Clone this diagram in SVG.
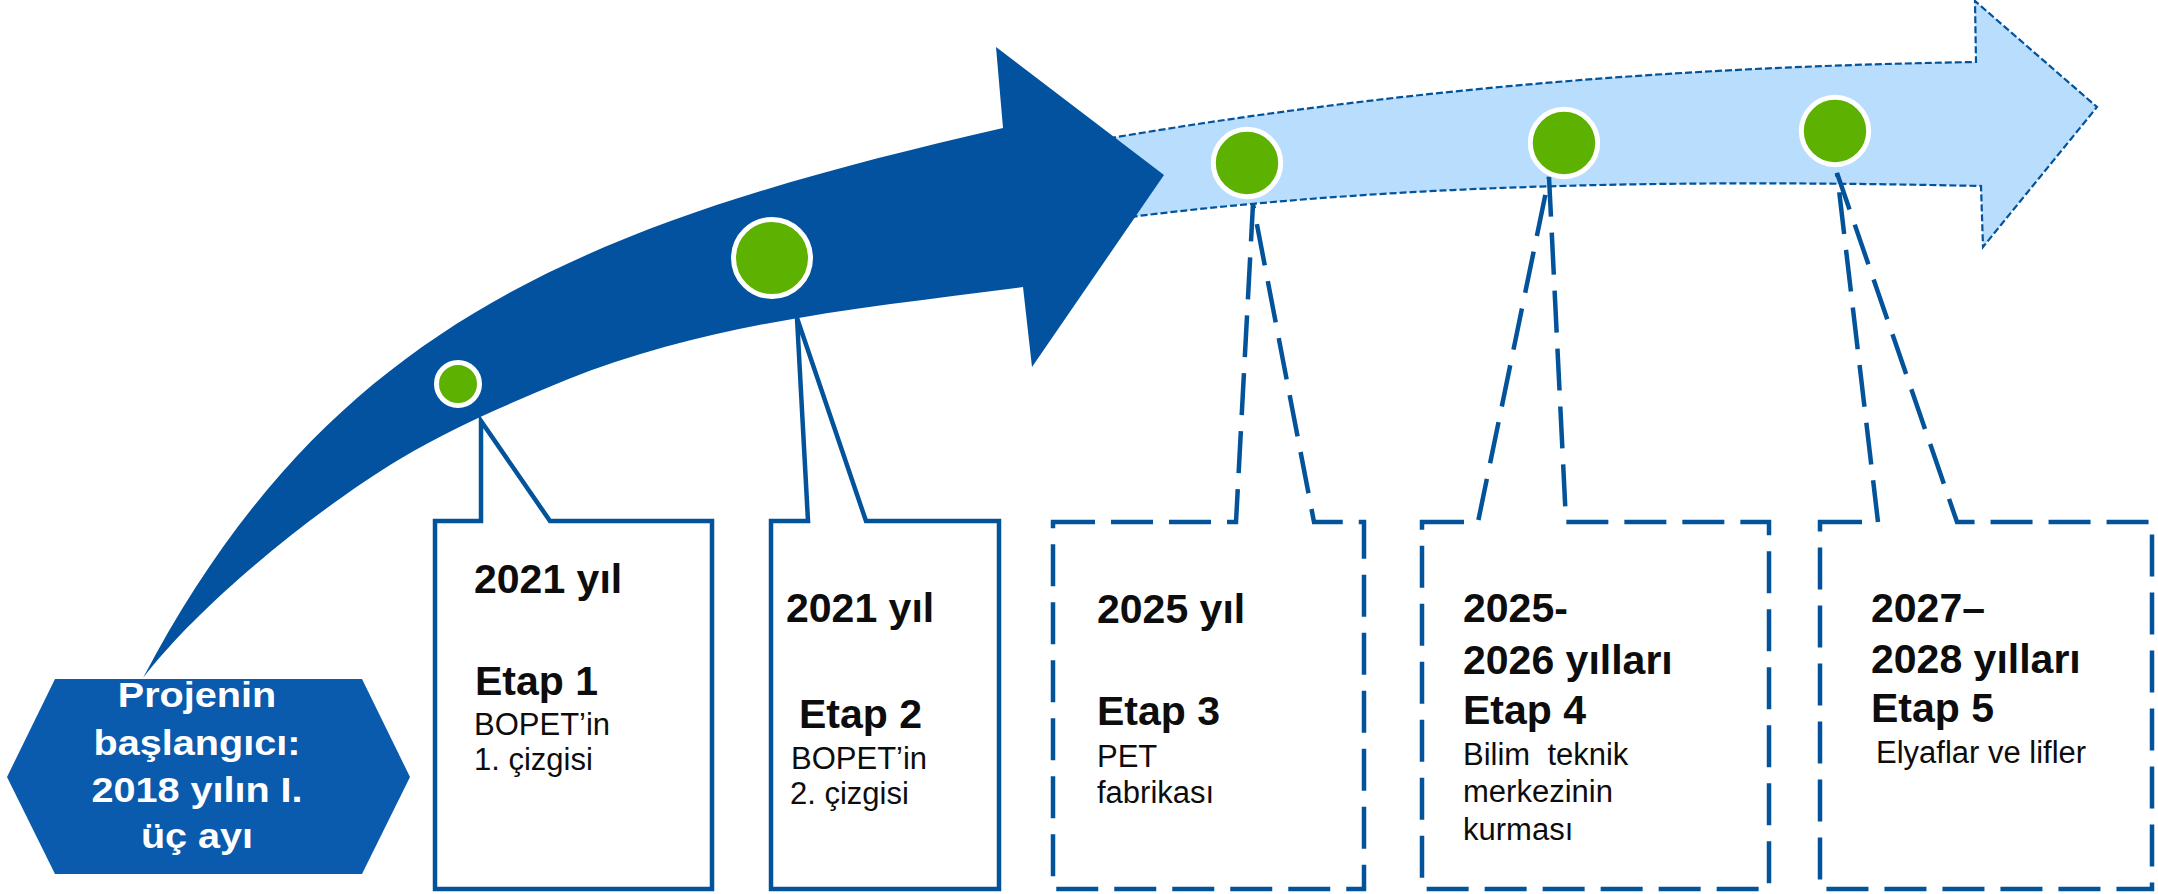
<svg xmlns="http://www.w3.org/2000/svg" width="2158" height="894" viewBox="0 0 2158 894">
<style>
.box{fill:none;stroke:#03539B;stroke-width:4.5;stroke-linejoin:miter}
.dash{stroke-dasharray:42 16}
.b{font-family:"Liberation Sans",Arial,sans-serif;font-weight:bold;font-size:41px;fill:#0d0d0d}
.r{font-family:"Liberation Sans",Arial,sans-serif;font-size:31px;fill:#0d0d0d}
.h{font-family:"Liberation Sans",Arial,sans-serif;font-weight:bold;font-size:36px;fill:#ffffff}
.dot{fill:#5DB100;stroke:#ffffff;stroke-width:5}
</style>
<rect width="2158" height="894" fill="#ffffff"/>
<g id="connectors">
  <path id="future-arrow" d="M1060,148 L1117,137 C1407,88 1686,66.6 1976,62 L1975,1 L2097,107 L1983,247 L1981,186 C1701,180 1418,182 1138,216 L1070,226 Z" fill="#B9DDFC" stroke="#03539B" stroke-width="2.2" stroke-dasharray="7 3"/>
  <path id="main-arrow" d="M143,678 C329,324 584,224 1003,128 L996,47 L1164,175 L1032,367 L1023,287 C873,307 716,320 566,380 C511,403 455,426 400,459 C320,507 203,600 143,678 Z" fill="#02529F"/>
</g>
<g id="start">
  <polygon points="55,679 362,679 410,777 362,874 55,874 7,777" fill="#0A5AAD"/>
  <g transform="translate(197,0) scale(1.1,1)">
    <text class="h" x="0" y="707" text-anchor="middle">Projenin</text>
    <text class="h" x="0" y="755" text-anchor="middle">başlangıcı:</text>
    <text class="h" x="0" y="802" text-anchor="middle">2018 yılın I.</text>
    <text class="h" x="0" y="848" text-anchor="middle">üç ayı</text>
  </g>
</g>
<g id="stage1">
  <path class="box" d="M435,521 L481,521 L481,421 L550,521 L712,521 L712,889 L435,889 Z"/>
  <text class="b" x="474" y="593">2021 yıl</text>
  <text class="b" x="475" y="695">Etap 1</text>
  <text class="r" x="474" y="735">BOPET’in</text>
  <text class="r" x="474" y="770">1. çizgisi</text>
</g>
<g id="stage2">
  <path class="box" d="M771,521 L808,521 L797,318 L866,521 L999,521 L999,889 L771,889 Z"/>
  <text class="b" x="786" y="622">2021 yıl</text>
  <text class="b" x="799" y="728">Etap 2</text>
  <text class="r" x="791" y="769">BOPET’in</text>
  <text class="r" x="790" y="804">2. çizgisi</text>
</g>
<g id="stage3">
  <path class="box dash" d="M1053,522 L1236,522 L1253,204 L1314,522 L1364,522 L1364,889 L1053,889 Z"/>
  <text class="b" x="1097" y="623">2025 yıl</text>
  <text class="b" x="1097" y="725">Etap 3</text>
  <text class="r" x="1097" y="767">PET</text>
  <text class="r" x="1097" y="803">fabrikası</text>
</g>
<g id="stage4">
  <path class="box dash" d="M1422,522 L1478,522 L1549,177 L1566,522 L1769,522 L1769,889 L1422,889 Z"/>
  <text class="b" x="1463" y="622">2025-</text>
  <text class="b" x="1463" y="674">2026 yılları</text>
  <text class="b" x="1463" y="724">Etap 4</text>
  <text class="r" x="1463" y="765">Bilim&#160; teknik</text>
  <text class="r" x="1463" y="802">merkezinin</text>
  <text class="r" x="1463" y="840">kurması</text>
</g>
<g id="stage5">
  <path class="box dash" d="M1820,522 L1878,522 L1837,173 L1957,522 L2152,522 L2152,889 L1820,889 Z"/>
  <text class="b" x="1871" y="622">2027–</text>
  <text class="b" x="1871" y="673">2028 yılları</text>
  <text class="b" x="1871" y="722">Etap 5</text>
  <text class="r" x="1876" y="763">Elyaflar ve lifler</text>
</g>
<g id="milestones">
  <circle class="dot" cx="458" cy="384" r="21.5"/>
  <circle class="dot" cx="772" cy="258" r="38.5"/>
  <circle class="dot" cx="1247" cy="163" r="33.7"/>
  <circle class="dot" cx="1564" cy="143" r="33.7"/>
  <circle class="dot" cx="1835" cy="131" r="33.7"/>
</g>
</svg>
